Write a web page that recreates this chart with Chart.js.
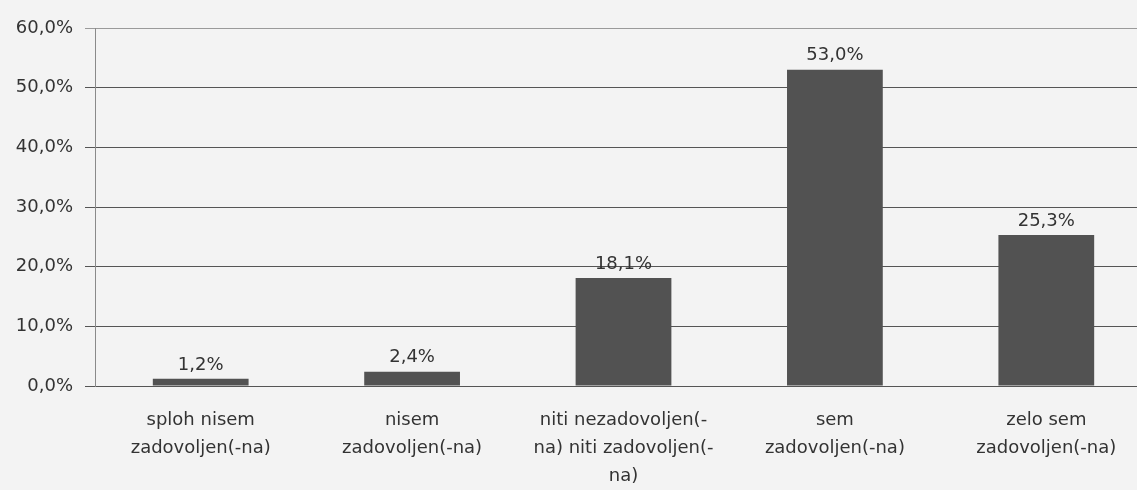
<!DOCTYPE html>
<html>
<head>
<meta charset="utf-8">
<script src="https://cdn.jsdelivr.net/npm/chart.js@4/dist/chart.umd.min.js"></script>
<style>
html,body{margin:0;padding:0;background:#f3f3f3;overflow:hidden;width:1137px;height:490px;}
#wrap{position:absolute;left:0;top:0;width:1160px;height:490px;}
</style>
</head>
<body>
<div id="wrap"><canvas id="c" width="1160" height="490"></canvas></div>
<script>
const categories = [
  ["sploh nisem", "zadovoljen(-na)"],
  ["nisem", "zadovoljen(-na)"],
  ["niti nezadovoljen(-", "na) niti zadovoljen(-", "na)"],
  ["sem", "zadovoljen(-na)"],
  ["zelo sem", "zadovoljen(-na)"]
];
const values = [1.2, 2.4, 18.1, 53.0, 25.3];
const yTicks = [0, 10, 20, 30, 40, 50, 60];

const fmt = v => v.toFixed(1).replace('.', ',') + '%';
const FONT = "'DejaVu Sans', sans-serif";
const TXT = '#333333';

const valueLabels = {
  id: 'valueLabels',
  afterDatasetsDraw(chart) {
    const ctx = chart.ctx;
    const meta = chart.getDatasetMeta(0);
    ctx.save();
    ctx.font = "18px " + FONT;
    ctx.fillStyle = TXT;
    ctx.textAlign = 'center';
    ctx.textBaseline = 'middle';
    meta.data.forEach((bar, i) => {
      ctx.fillText(fmt(values[i]), bar.x, bar.y - 14);
    });
    ctx.restore();
  }
};

new Chart(document.getElementById('c'), {
  type: 'bar',
  data: {
    labels: categories,
    datasets: [{
      data: values,
      backgroundColor: '#525252',
      borderWidth: 0,
      categoryPercentage: 1.0,
      barPercentage: 0.453
    }]
  },
  options: {
    responsive: false,
    animation: false,
    devicePixelRatio: 1,
    layout: { padding: { top: 28, right: 8, bottom: 0, left: 0 } },
    plugins: { legend: { display: false }, tooltip: { enabled: false } },
    scales: {
      x: {
        grid: { display: false, drawTicks: false },
        border: { display: false },
        ticks: {
          color: TXT,
          font: { family: FONT, size: 18, lineHeight: '28px' },
          padding: 20,
          maxRotation: 0,
          autoSkip: false
        },
        afterFit(scale) { scale.height = 104; }
      },
      y: {
        min: 0,
        max: 60,
        afterBuildTicks(scale) { scale.ticks = yTicks.map(v => ({ value: v })); },
        grid: {
          color: ctx => ctx.tick && ctx.tick.value === 60 ? '#9a9a9a' : '#555555',
          lineWidth: 1, tickLength: 10, drawTicks: true
        },
        border: { display: true, color: '#8a8a8a', width: 1 },
        ticks: {
          color: TXT,
          font: { family: FONT, size: 18 },
          padding: 12,
          callback: v => fmt(v)
        },
        afterFit(scale) { scale.width = 95; }
      }
    }
  },
  plugins: [valueLabels]
});
</script>
</body>
</html>
